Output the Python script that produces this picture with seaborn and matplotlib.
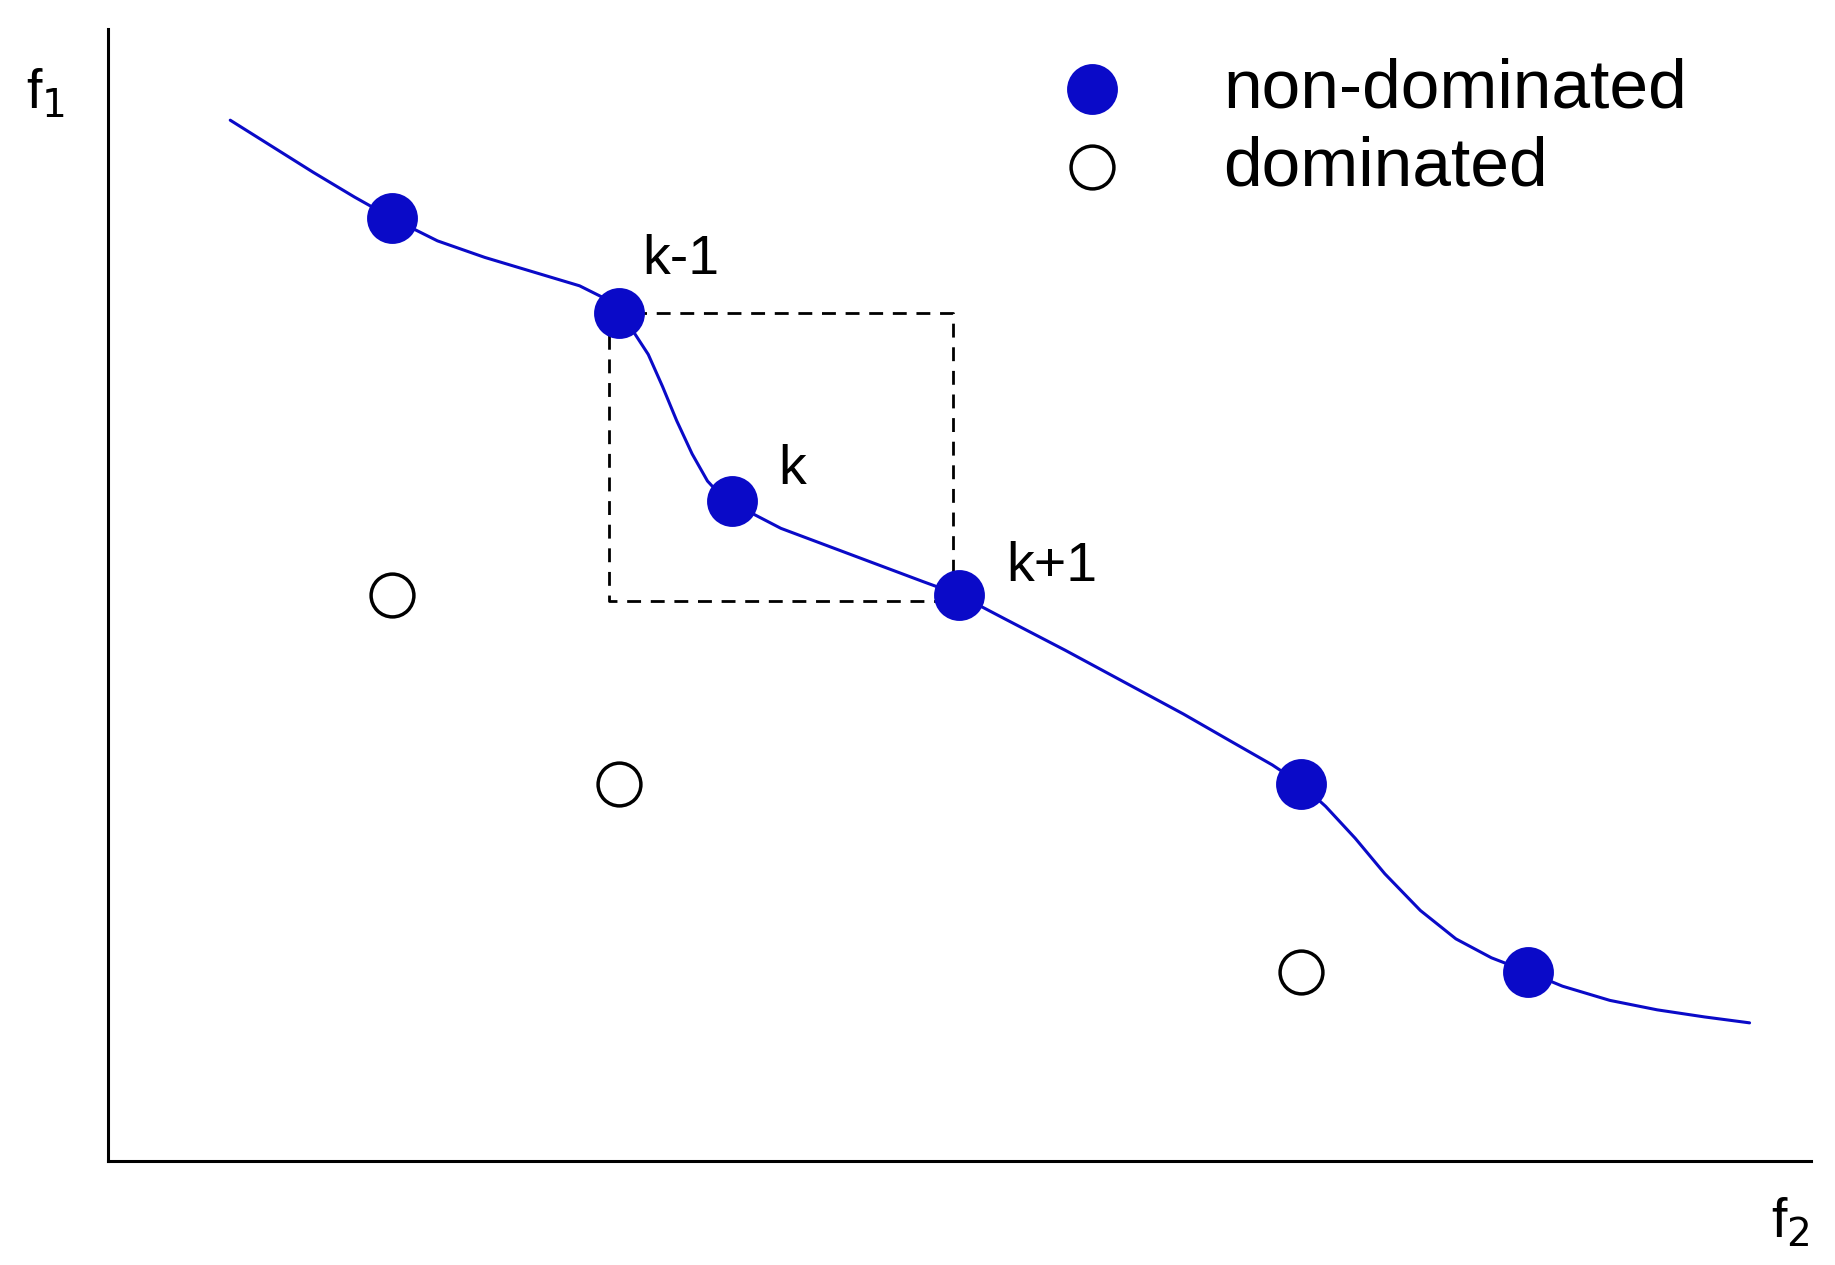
import matplotlib.pyplot as plt
import seaborn as sns

sns.set_style("white")
plt.rcParams['font.family'] = ['Liberation Sans', 'DejaVu Sans']
plt.rcParams['text.color'] = 'black'

# data (x to the right, y upward)
front_x = [332, 523, 619, 810, 1099, 1291]
front_y = [797, 717, 558, 479, 319, 160]
dom_x = [332, 523, 1099]
dom_y = [479, 319, 160]
curve_x = [195, 230, 265, 300, 332, 370, 410, 450, 490, 510, 523, 535, 548,
           560, 572, 585, 598, 610, 619, 635, 660, 700, 740, 780, 810, 850,
           900, 950, 1000, 1040, 1075, 1099, 1120, 1145, 1170, 1200, 1230,
           1260, 1291, 1320, 1360, 1400, 1440, 1478]
curve_y = [880, 858, 836, 815, 797, 778, 764, 752, 740, 730, 717, 702, 682,
           655, 626, 598, 575, 562, 558, 548, 535, 520, 505, 490, 479, 458,
           432, 405, 378, 355, 335, 319, 300, 273, 243, 212, 188, 172, 160,
           148, 136, 128, 122, 117]
box_x = [515, 805, 805, 515, 515]
box_y = [717, 717, 474, 474, 717]
labels = ['k-1', 'k', 'k+1']
label_x = [543, 658, 850]
label_y = [740, 562, 480]

blue = '#0a0ac8'
fig = plt.figure(figsize=(18.35, 12.65), dpi=100)
ax = fig.add_axes([0.059, 0.082, 0.928, 0.895])

sns.lineplot(x=curve_x, y=curve_y, sort=False, color=blue, lw=2.2, ax=ax)
ax.plot(box_x, box_y, ls=(0, (5, 3.5)), color='black', lw=2.0)
sns.scatterplot(x=front_x, y=front_y, s=1150, color=blue, edgecolor=blue,
                ax=ax, zorder=3, label='non-dominated')
sns.scatterplot(x=dom_x, y=dom_y, s=950, facecolor='white', edgecolor='black',
                linewidth=2.5, ax=ax, zorder=3, label='dominated')
for t, x, y in zip(labels, label_x, label_y):
    ax.text(x, y, t, fontsize=40, ha='left', va='bottom', color='black')

ax.set_xlim(92, 1530)
ax.set_ylim(0, 957)
ax.set_xticks([])
ax.set_yticks([])
for s in ['top', 'right']:
    ax.spines[s].set_visible(False)
for s in ['left', 'bottom']:
    ax.spines[s].set_linewidth(2.2)
    ax.spines[s].set_color('black')

leg = ax.legend(loc='upper left', bbox_to_anchor=(0.5, 1.03), frameon=False,
                fontsize=50, handletextpad=0.9, labelspacing=0.2)
for txt in leg.get_texts():
    txt.set_color('black')

fig.text(0.014, 0.915, r'f$_1$', fontsize=40, color='black')
fig.text(0.965, 0.022, r'f$_2$', fontsize=40, color='black')

fig.savefig('out.png', dpi=100)
